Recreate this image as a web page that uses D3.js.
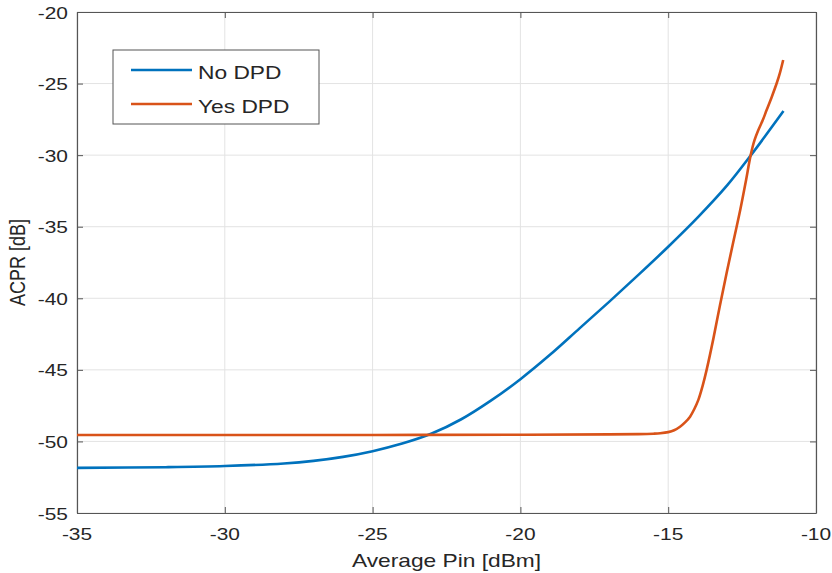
<!DOCTYPE html>
<html><head><meta charset="utf-8">
<script src="https://cdn.jsdelivr.net/npm/d3@7"></script>
<style>body{margin:0;background:#fff}svg{display:block}text{font-family:"Liberation Sans",Arial,sans-serif;fill:#262626}</style>
</head><body><svg id="c" width="832" height="573"></svg>
<script>
const xTicks = [-35, -30, -25, -20, -15, -10];
const yTicks = [-55, -50, -45, -40, -35, -30, -25, -20];
const noDpdX = [-35, -32, -30, -28, -27, -26, -25, -24, -23, -22, -21, -20, -19, -18, -17, -16, -15, -14, -13, -12.2, -11.1];
const noDpdY = [-51.85, -51.8, -51.72, -51.54, -51.36, -51.08, -50.68, -50.15, -49.45, -48.45, -47.15, -45.65, -43.95, -42.1, -40.25, -38.35, -36.4, -34.35, -32.1, -30.0, -26.92];
const yesDpdX = [-35, -30, -25, -20, -17, -16, -15.5, -15.27, -15, -14.8, -14.6, -14.43, -14.26, -14.12, -13.98, -13.84, -13.7, -13.47, -13.25, -13.02, -12.78, -12.56, -12.38, -12.21, -12.08, -11.95, -11.8, -11.67, -11.5, -11.33, -11.22, -11.11];
const yesDpdY = [-49.55, -49.55, -49.55, -49.53, -49.51, -49.49, -49.46, -49.43, -49.35, -49.22, -48.97, -48.67, -48.27, -47.75, -47.1, -46.15, -45.0, -42.8, -40.5, -38.2, -35.9, -33.8, -31.9, -30.0, -28.95, -28.24, -27.55, -26.85, -25.95, -24.98, -24.25, -23.35];
const seriesNames = ["No DPD", "Yes DPD"];
const colors = ["#0072BD", "#D95319"];

const SX = 1.23; // horizontal text stretch seen in the reference
const svg = d3.select("#c");
const L = 77, R = 816, T = 12, B = 513;
const x = d3.scaleLinear().domain([-35, -10]).range([L, R]);
const y = d3.scaleLinear().domain([-55, -20]).range([B, T]);

function stretchedText(parent, px, py, str, size, anchor, rot, color) {
  return parent.append("text")
    .attr("transform", `translate(${px},${py}) scale(${SX},1)` + (rot ? ` rotate(${rot})` : ""))
    .attr("text-anchor", anchor).attr("font-size", size)
    .attr("fill", color || "#262626").text(str);
}

// grid
const g = svg.append("g");
g.selectAll(".gx").data(xTicks).enter().append("line")
  .attr("x1", d => x(d)).attr("x2", d => x(d)).attr("y1", T).attr("y2", B)
  .attr("stroke", "#e3e3e3").attr("stroke-width", 1);
g.selectAll(".gy").data(yTicks).enter().append("line")
  .attr("y1", d => y(d)).attr("y2", d => y(d)).attr("x1", L).attr("x2", R)
  .attr("stroke", "#e3e3e3").attr("stroke-width", 1);

// axes (inward ticks, full box)
const axB = d3.axisBottom(x).tickValues(xTicks).tickSizeInner(-6).tickSizeOuter(0).tickFormat("");
const axL = d3.axisLeft(y).tickValues(yTicks).tickSizeInner(-6).tickSizeOuter(0).tickFormat("");
const axT = d3.axisTop(x).tickValues(xTicks).tickSizeInner(-6).tickSizeOuter(0).tickFormat("");
const axR = d3.axisRight(y).tickValues(yTicks).tickSizeInner(-6).tickSizeOuter(0).tickFormat("");
function style(sel) {
  sel.selectAll("path").attr("stroke", "#555").attr("stroke-width", 1.2);
  sel.selectAll("line").attr("stroke", "#555");
}
svg.append("g").attr("transform", `translate(0,${B})`).call(axB).call(style);
svg.append("g").attr("transform", `translate(${L},0)`).call(axL).call(style);
svg.append("g").attr("transform", `translate(0,${T})`).call(axT).call(style);
svg.append("g").attr("transform", `translate(${R},0)`).call(axR).call(style);

// tick labels
const tl = svg.append("g");
xTicks.forEach(d => stretchedText(tl, x(d), 540, String(d), 17, "middle"));
yTicks.forEach(d => stretchedText(tl, L - 9, y(d) + 6.5, String(d), 17, "end"));

// lines
const line = d3.line().x(d => x(d[0])).y(d => y(d[1])).curve(d3.curveCatmullRom.alpha(0.5));
const series = [d3.zip(noDpdX, noDpdY), d3.zip(yesDpdX, yesDpdY)];
series.forEach((s, i) => {
  svg.append("path").datum(s).attr("d", line).attr("fill", "none")
    .attr("stroke", colors[i]).attr("stroke-width", 2.6).attr("stroke-linejoin", "round");
});

// axis labels
stretchedText(svg, (L + R) / 2, 567, "Average Pin [dBm]", 18.5, "middle");
stretchedText(svg, 25, (T + B) / 2, "ACPR [dB]", 18, "middle", -90);

// legend
const lg = svg.append("g");
lg.append("rect").attr("x", 113).attr("y", 50).attr("width", 206).attr("height", 74)
  .attr("fill", "#fff").attr("stroke", "#555").attr("stroke-width", 1);
seriesNames.forEach((n, i) => {
  const yy = 70 + i * 34;
  lg.append("line").attr("x1", 131).attr("x2", 192).attr("y1", yy).attr("y2", yy)
    .attr("stroke", colors[i]).attr("stroke-width", 2.6);
  stretchedText(lg, 198, yy + 9, n, 18.5, "start", 0, "#000");
});
</script></body></html>
